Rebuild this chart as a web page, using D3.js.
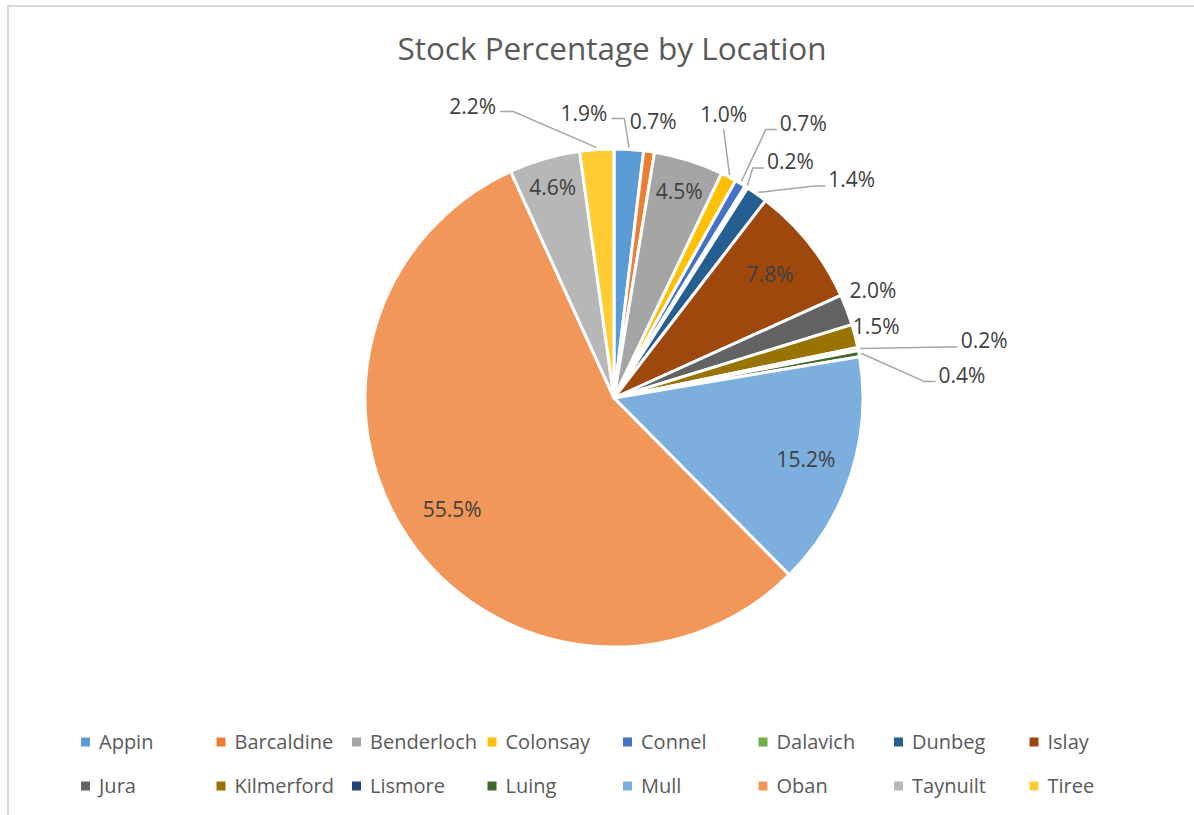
<!DOCTYPE html>
<html>
<head>
<meta charset="utf-8">
<script src="https://cdn.jsdelivr.net/npm/d3@7/dist/d3.min.js"></script>
<style>
    body { margin: 0; background: #fff; }
    svg text { font-family: "Open Sans", "Segoe UI", sans-serif; }
</style>
</head>
<body>
<div id="chart"></div>
<script>
// Chart data
const locations = ["Appin", "Barcaldine", "Benderloch", "Colonsay", "Connel", "Dalavich", "Dunbeg", "Islay",
    "Jura", "Kilmerford", "Lismore", "Luing", "Mull", "Oban", "Taynuilt", "Tiree"];
const stockPct = [1.9, 0.7, 4.5, 1.0, 0.7, 0.2, 1.4, 7.8, 2.0, 1.5, 0.2, 0.4, 15.2, 55.5, 4.6, 2.2];
const sliceColors = ["#5B9BD5", "#ED7D31", "#A5A5A5", "#FFC000", "#4472C4", "#70AD47", "#255E91", "#9E480E",
    "#636363", "#997300", "#264478", "#43682B", "#7CAFDD", "#F1975A", "#B7B7B7", "#FFCD33"];

// Label placement: inside labels use a radius fraction, outside ones an offset from the rim point
const labelPlacement = [
    { dx: -45, dy: -36, leader: "right" },   // Appin
    { dx: 4, dy: -30 },                      // Barcaldine
    { k: 0.87 },                             // Benderloch
    { dx: -5, dy: -62, leader: "below" },    // Colonsay
    { dx: 63, dy: -60, leader: "left" },     // Connel
    { dx: 44, dy: -25, leader: "left" },     // Dalavich
    { dx: 95, dy: -14, leader: "left" },     // Dunbeg
    { k: 0.80 },                             // Islay
    { dx: 26, dy: -19 },                     // Jura
    { dx: 21, dy: -9 },                      // Kilmerford
    { dx: 126, dy: -8, leader: "left" },     // Lismore
    { dx: 103, dy: 22, leader: "left" },     // Luing
    { k: 0.81 },                             // Mull
    { k: 0.79 },                             // Oban
    { k: 0.88 },                             // Taynuilt
    { dx: -124, dy: -43, leader: "right" }   // Tiree
];

const width = 1194, height = 815;
const cx = 614, cy = 398, radius = 249;

const svg = d3.select("#chart")
    .append("svg")
    .attr("width", width)
    .attr("height", height);

// Chart area border (runs off the right/bottom edge like the source)
svg.append("rect")
    .attr("x", 8)
    .attr("y", 6)
    .attr("width", 1200)
    .attr("height", 820)
    .attr("fill", "#fff")
    .attr("stroke", "#d9d9d9")
    .attr("stroke-width", 2);

// Title
svg.append("text")
    .attr("x", 612)
    .attr("y", 60)
    .attr("text-anchor", "middle")
    .style("font-size", "31.5px")
    .style("fill", "#595959")
    .text("Stock Percentage by Location");

const data = locations.map((name, i) => ({ name, value: stockPct[i], color: sliceColors[i], place: labelPlacement[i] }));

const pie = d3.pie().sort(null).value(d => d.value);
const arc = d3.arc().innerRadius(0).outerRadius(radius);
const arcs = pie(data);

const g = svg.append("g").attr("transform", `translate(${cx},${cy})`);

g.selectAll("path.slice")
    .data(arcs)
    .join("path")
    .attr("class", "slice")
    .attr("d", arc)
    .attr("fill", d => d.data.color)
    .attr("stroke", "#fff")
    .attr("stroke-width", 3)
    .attr("stroke-linejoin", "round");

// polar helper (angle measured clockwise from top)
function polar(angle, r) {
    return [r * Math.sin(angle), -r * Math.cos(angle)];
}

const fmt = d => d.toFixed(1) + "%";
const labelFont = 21;

arcs.forEach(a => {
    const mid = (a.startAngle + a.endAngle) / 2;
    const p = a.data.place;
    let lx, ly;
    if (p.k !== undefined) {
        [lx, ly] = polar(mid, radius * p.k);
    } else {
        const rim = polar(mid, radius);
        lx = rim[0] + p.dx;
        ly = rim[1] + p.dy;
    }

    const label = g.append("text")
        .attr("x", lx)
        .attr("y", ly)
        .attr("dy", "0.35em")
        .attr("text-anchor", "middle")
        .style("font-size", labelFont + "px")
        .style("fill", "#404040")
        .text(fmt(a.data.value));

    if (!p.leader) return;
    const box = label.node().getBBox();
    const edge = polar(mid, radius + 2);
    let pts;
    if (p.leader === "below") {
        pts = [[lx, box.y + box.height + 1], edge];
    } else if (p.leader === "right") {
        const sx = box.x + box.width + 4, sy = ly + 5;
        pts = [[sx, sy], [sx + 13, sy], edge];
    } else {
        const sx = box.x - 3, sy = ly + 6;
        pts = [[sx, sy], [sx - 11, sy], edge];
    }
    g.append("path")
        .attr("d", d3.line()(pts))
        .attr("fill", "none")
        .attr("stroke", "#a6a6a6")
        .attr("stroke-width", 1.5);
});

// Legend: two rows of eight
const legendCols = 8, colStep = 135.5, legendX = 99, rowY = [742, 786];
const legend = svg.append("g");
const items = legend.selectAll("g.item")
    .data(data)
    .join("g")
    .attr("class", "item")
    .attr("transform", (d, i) => `translate(${legendX + (i % legendCols) * colStep},${rowY[Math.floor(i / legendCols)]})`);

items.append("rect")
    .attr("x", -18)
    .attr("y", -4.5)
    .attr("width", 9)
    .attr("height", 9)
    .attr("fill", d => d.color);

items.append("text")
    .attr("x", 0)
    .attr("dy", "0.35em")
    .style("font-size", "20px")
    .style("fill", "#595959")
    .text(d => d.name);
</script>
</body>
</html>
